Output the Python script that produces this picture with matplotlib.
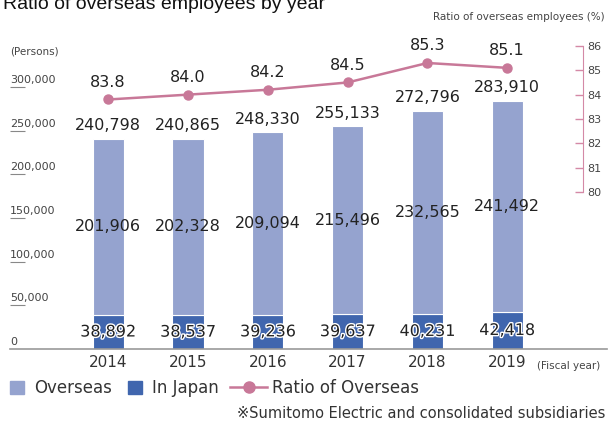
import matplotlib
matplotlib.use("Agg")
from matplotlib import pyplot as plt
from matplotlib import patches as mpatches
from matplotlib import lines as mlines
from matplotlib import patheffects as pe
from matplotlib import transforms as mtrans
import numpy as np

years = ['2014', '2015', '2016', '2017', '2018', '2019']
in_japan = [38892, 38537, 39236, 39637, 40231, 42418]
overseas = [201906, 202328, 209094, 215496, 232565, 241492]
totals = [240798, 240865, 248330, 255133, 272796, 283910]
ratio = [83.8, 84.0, 84.2, 84.5, 85.3, 85.1]
left_ticks = [0, 50000, 100000, 150000, 200000, 250000, 300000]
right_ticks = [80, 81, 82, 83, 84, 85, 86]

c_over = '#95a3cf'
c_japan = '#4066ae'
c_line = '#c87898'
c_spine = '#d489a6'
c_text = '#222222'
c_tick = '#444444'

plt.rcParams['font.family'] = ['DejaVu Sans', 'Noto Sans CJK JP']

fig = plt.figure(figsize=(6.08, 4.25), dpi=100)
ax = fig.add_axes([10 / 608, 76 / 425, 597 / 608, 305 / 425])
ax2 = ax.twinx()

x = np.arange(len(years))
ax.bar(x, in_japan, width=0.39, color=c_japan, edgecolor='white', linewidth=0.8)
ax.bar(x, overseas, bottom=in_japan, width=0.39, color=c_over,
       edgecolor='white', linewidth=0.8)

ax.set_xlim(-1.23, 6.25)
ax.set_ylim(0, 349237)

# value labels
for i in range(len(years)):
    ax.annotate(f'{totals[i]:,}', (x[i], totals[i]), xytext=(0, 4),
                textcoords='offset points', ha='center', va='bottom',
                fontsize=11.5, color=c_text)
    ax.text(x[i], in_japan[i] + overseas[i] / 2, f'{overseas[i]:,}',
            ha='center', va='center', fontsize=11.5, color=c_text)
    t = ax.text(x[i], in_japan[i] / 2, f'{in_japan[i]:,}', ha='center',
                va='center', fontsize=11.5, color=c_text)
    t.set_path_effects([pe.withStroke(linewidth=2, foreground='white')])

# left axis: underline ticks with labels above
for s in ['top', 'left', 'right']:
    ax.spines[s].set_visible(False)
ax.spines['bottom'].set_color('#999999')
ax.spines['bottom'].set_linewidth(1.2)
ax.set_yticks(left_ticks[1:])
ax.tick_params(axis='y', direction='in', length=11, width=0.8,
               color='#888888', labelleft=False)
trans = mtrans.blended_transform_factory(ax.transAxes, ax.transData)
for v in left_ticks:
    ax.annotate(f'{v:,}', (0, v), xycoords=trans, xytext=(0, 1.5),
                textcoords='offset points', ha='left', va='bottom',
                fontsize=8, color=c_tick)

ax.set_xticks(x)
ax.set_xticklabels(years, fontsize=11, color='#333333')
ax.tick_params(axis='x', length=0, pad=4)

# ratio line on right axis
ax2.plot(x, ratio, color=c_line, linewidth=1.8, marker='o', markersize=6.5,
         zorder=5)
for i in range(len(years)):
    ax2.annotate(f'{ratio[i]:.1f}', (x[i], ratio[i]), xytext=(0, 7),
                 textcoords='offset points', ha='center', va='bottom',
                 fontsize=11.5, color=c_text)
ax2.set_ylim(73.55, 86.08)
ax2.set_yticks(right_ticks)
for s in ['top', 'left', 'bottom']:
    ax2.spines[s].set_visible(False)
ax2.spines['right'].set_position(('axes', 0.96))
ax2.spines['right'].set_bounds(80, 86)
ax2.spines['right'].set_color(c_spine)
ax2.tick_params(axis='y', direction='in', length=6, width=1, color=c_spine,
                labelsize=8, labelcolor=c_tick, pad=3)

# texts
fig.text(3 / 608, 1 - 9 / 425, 'Ratio of overseas employees by year',
         fontsize=14, family='Liberation Sans', color='#111111',
         va='baseline', ha='left')
fig.text(605 / 608, 1 - 17 / 425, 'Ratio of overseas employees (%)',
         fontsize=7.5, color='#444444', ha='right', va='center')
fig.text(10 / 608, 1 - 52 / 425, '(Persons)', fontsize=7.5,
         color='#444444', ha='left', va='center')
fig.text(537 / 608, 1 - 366 / 425, '(Fiscal year)', fontsize=7.5,
         color='#444444', ha='left', va='center')
fig.text(605 / 608, 1 - 414 / 425,
         '\u203bSumitomo Electric and consolidated subsidiaries',
         fontsize=10.5, color='#333333', ha='right', va='center')

# legends
h1 = mpatches.Patch(color=c_over, label='Overseas')
h2 = mpatches.Patch(color=c_japan, label='In Japan')
fig.legend(handles=[h1, h2], loc='center left',
           bbox_to_anchor=(2 / 608, 1 - 388 / 425), ncol=2,
           frameon=False, fontsize=12, handlelength=0.8,
           handleheight=0.8, handletextpad=0.6, columnspacing=1.0,
           borderpad=0, labelcolor='#333333')
h3 = mlines.Line2D([], [], color=c_line, linewidth=1.8, marker='o',
                   markersize=8, label='Ratio of Overseas')
fig.legend(handles=[h3], loc='center left',
           bbox_to_anchor=(222 / 608, 1 - 388 / 425), frameon=False,
           fontsize=12, handlelength=2.2, handletextpad=0.3, borderpad=0,
           labelcolor='#333333')

fig.savefig('out.png', dpi=100)
